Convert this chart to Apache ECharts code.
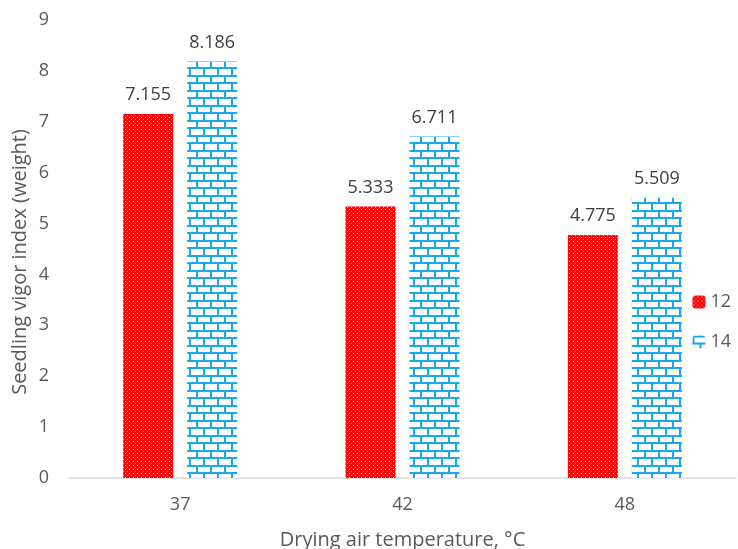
<!DOCTYPE html>
<html>
<head>
<meta charset="utf-8">
<script src="https://cdn.jsdelivr.net/npm/echarts@6/dist/echarts.min.js"></script>
<style>
  html, body { margin: 0; padding: 0; background: #fff; overflow: hidden; }
  #chart { width: 738px; height: 549px; }
</style>
</head>
<body>
<div id="chart"></div>
<script>
// Drying air temperatures (°C) and seedling vigor index per moisture group
const categories = ['37', '42', '48'];
const seriesNames = ['12', '14'];
const values12 = [7.155, 5.333, 4.775];
const values14 = [8.186, 6.711, 5.509];
const yTitle = 'Seedling vigor index (weight)';
const xTitle = 'Drying air temperature, °C';

// Red fill with a fine grid of white dots
function dotPattern() {
  const c = document.createElement('canvas');
  c.width = 4; c.height = 4;
  const g = c.getContext('2d');
  g.fillStyle = '#ff0000';
  g.fillRect(0, 0, 4, 4);
  g.fillStyle = 'rgba(255,255,255,0.95)';
  g.fillRect(1, 1, 1, 1);
  g.fillStyle = 'rgba(255,170,170,0.9)';
  g.fillRect(3, 3, 1, 1);
  return c;
}

// Blue brick outline on white
function brickPattern() {
  const c = document.createElement('canvas');
  c.width = 14; c.height = 15;
  const g = c.getContext('2d');
  g.fillStyle = '#ffffff';
  g.fillRect(0, 0, 14, 15);
  g.fillStyle = '#1aa8ec';
  g.fillRect(0, 0, 14, 2);
  g.fillRect(0, 7, 14, 2);
  g.fillRect(0, 0, 2, 7);
  g.fillRect(7, 7, 2, 8);
  return c;
}

const chart = echarts.init(document.getElementById('chart'), null, { renderer: 'canvas' });
const font = '"Open Sans", "Liberation Sans", sans-serif';
const valueLabel = {
  show: true, position: 'top', distance: 10,
  fontSize: 18, color: '#404040', fontFamily: font,
  formatter: p => p.value.toFixed(3)
};

chart.setOption({
  animation: false,
  textStyle: { fontFamily: font },
  grid: { left: 69, right: 2, top: 20, bottom: 71, containLabel: false, outerBoundsMode: 'none' },
  legend: {
    orient: 'vertical',
    right: 2,
    top: 288,
    itemWidth: 13,
    itemHeight: 13,
    itemGap: 22,
    data: seriesNames,
    textStyle: { fontSize: 18, color: '#595959', fontFamily: font }
  },
  // vertical axis title, placed beside the tick labels
  graphic: [{
    type: 'text',
    x: 20,
    y: 262,
    rotation: Math.PI / 2,
    style: {
      text: yTitle,
      fill: '#595959',
      font: '20px "Open Sans", "Liberation Sans", sans-serif',
      align: 'center',
      verticalAlign: 'middle'
    }
  }],
  xAxis: {
    type: 'category',
    data: categories,
    name: xTitle,
    nameLocation: 'middle',
    nameGap: 52,
    nameTextStyle: { fontSize: 20, color: '#595959', fontFamily: font },
    axisLine: { lineStyle: { color: '#d9d9d9', width: 1.5 } },
    axisTick: { show: false },
    axisLabel: { fontSize: 18, color: '#595959', margin: 18, fontFamily: font }
  },
  yAxis: {
    type: 'value',
    min: 0,
    max: 9,
    interval: 1,
    axisLine: { show: false },
    axisTick: { show: false },
    splitLine: { show: false },
    axisLabel: { fontSize: 18, color: '#595959', margin: 20, fontFamily: font }
  },
  series: [
    {
      name: seriesNames[0],
      type: 'bar',
      data: values12,
      barWidth: 50,
      barGap: '28%',
      itemStyle: { color: { image: dotPattern(), repeat: 'repeat' } },
      label: valueLabel
    },
    {
      name: seriesNames[1],
      type: 'bar',
      data: values14,
      barWidth: 50,
      barGap: '28%',
      itemStyle: { color: { image: brickPattern(), repeat: 'repeat' } },
      label: valueLabel
    }
  ]
});
</script>
</body>
</html>
